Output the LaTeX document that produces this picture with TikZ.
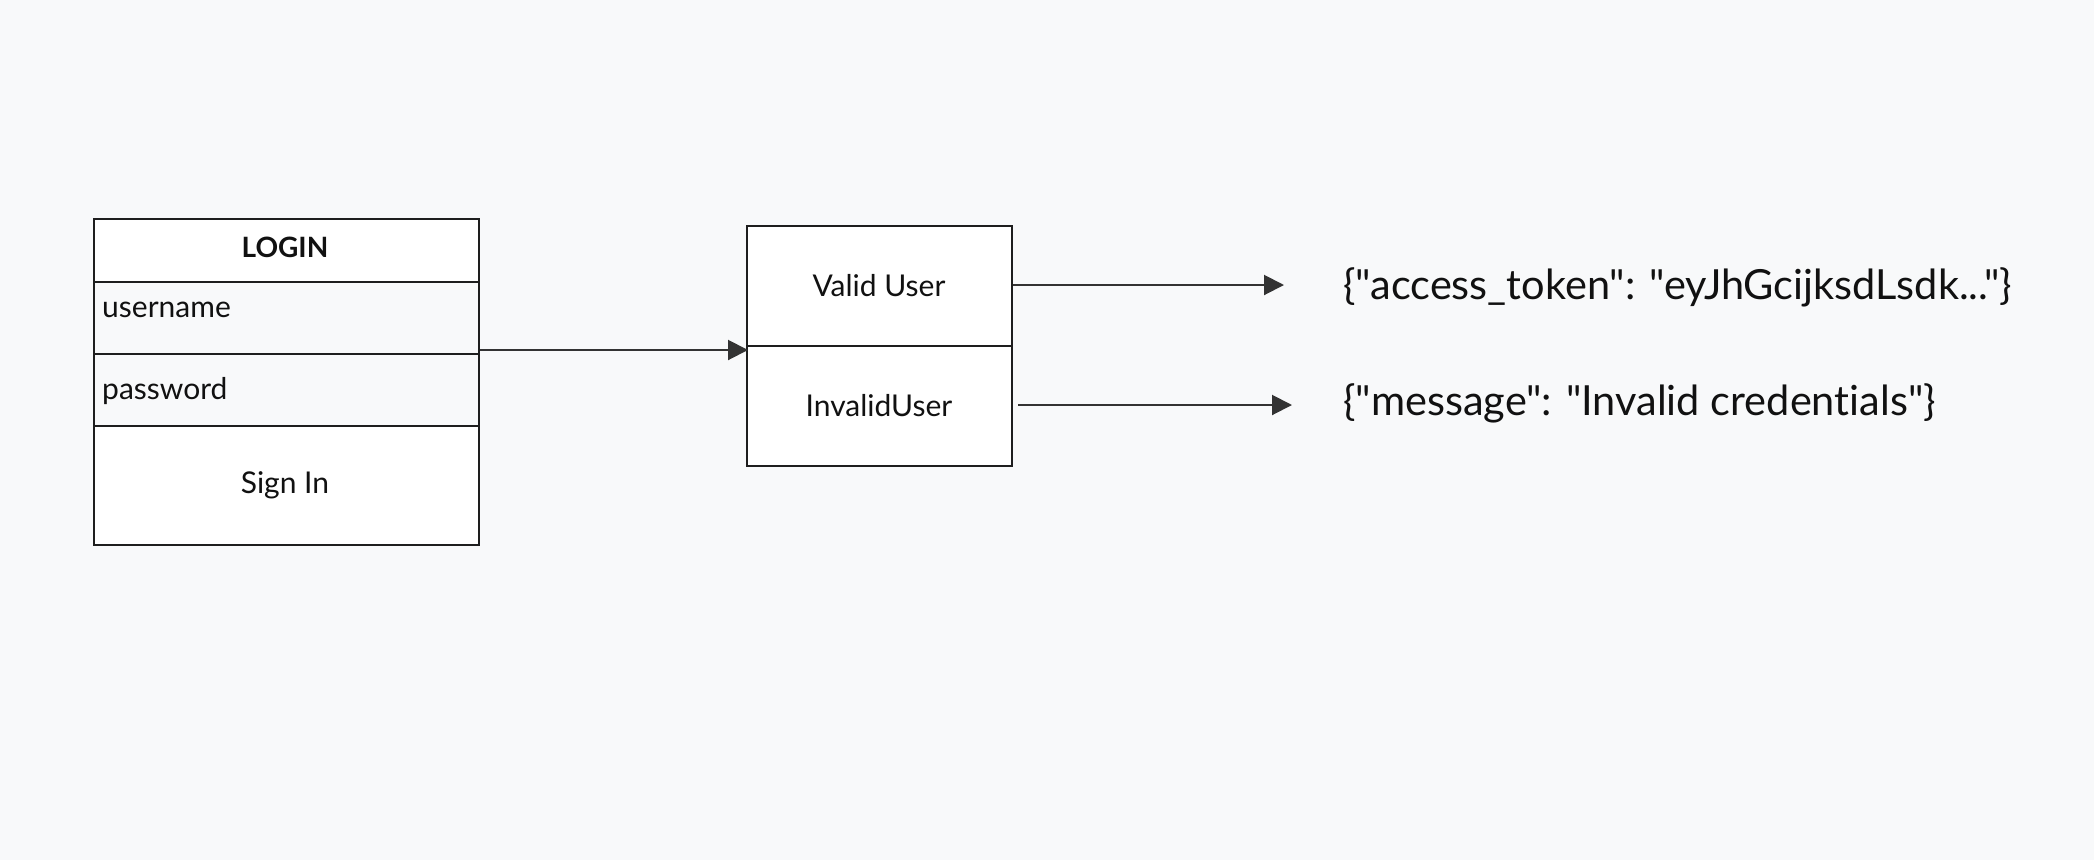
\documentclass[tikz,border=0pt]{standalone}
\usepackage{fontspec}
\setmainfont{Lato}[Ligatures={NoCommon,TeXOff}]
\usetikzlibrary{arrows.meta}
\definecolor{bgc}{HTML}{F8F9FA}
\definecolor{linec}{HTML}{1E1E1E}
\definecolor{arrc}{HTML}{333333}
\definecolor{txtc}{HTML}{111111}
\tikzset{
  boxw/.style={draw=linec, line width=2.2pt, fill=white, inner sep=0pt, anchor=north west, text=txtc},
  boxg/.style={draw=linec, line width=2.2pt, fill=bgc, inner sep=0pt, anchor=north west},
  lbl/.style={inner sep=0pt, text=txtc, font=\fontsize{30}{34}\selectfont},
  big/.style={inner sep=0pt, text=txtc, anchor=west, font=\fontsize{41.5}{46}\selectfont},
  conn/.style={draw=arrc, line width=2pt, -{Triangle[length=20pt,width=20pt]}}
}
\begin{document}
\begin{tikzpicture}[x=1pt,y=-1pt]
\fill[bgc] (0,0) rectangle (2094,860);
\useasboundingbox (0,0) rectangle (2094,860);
% login box
\node[boxw, minimum width=385pt, minimum height=63pt] (hdr) at (93,218) {};
\node[boxg, minimum width=385pt, minimum height=72pt] (user) at (93,281) {};
\node[boxg, minimum width=385pt, minimum height=72pt] (pass) at (93,353) {};
\node[boxw, minimum width=385pt, minimum height=119pt] (sign) at (93,425) {};
\node[lbl, font=\fontsize{28}{32}\selectfont\bfseries] (hdrt) at (285,247) {LOGIN};
\node[lbl, anchor=west] (usert) at (102,310) {username};
\node[lbl, anchor=west] (passt) at (102,391) {password};
\node[lbl] (signt) at (285,485) {Sign In};
% middle box
\node[boxw, minimum width=265pt, minimum height=120pt] (valid) at (746,225) {};
\node[boxw, minimum width=265pt, minimum height=120pt] (invalid) at (746,345) {};
\node[lbl] (validt) at (879,286) {Valid User};
\node[lbl] (invalidt) at (879,406) {InvalidUser};
% responses
\node[big] (token) at (1343,287) {\{"access\_token": "eyJhGcijksdLsdk..."\}};
\node[big] (msg) at (1343,403) {\{"message": "Invalid credentials"\}};
\coordinate (s0) at (478,350);
\coordinate (t0) at (748,350);
\coordinate (t1) at (1284,285);
\coordinate (t2) at (1292,405);
\coordinate (s2) at (1018,405);
% connectors
\draw[conn] (s0 -| user.east) -- (t0);
\draw[conn] (t1 -| valid.east) -- (t1);
\draw[conn] (s2) -- (t2);
\end{tikzpicture}
\end{document}
